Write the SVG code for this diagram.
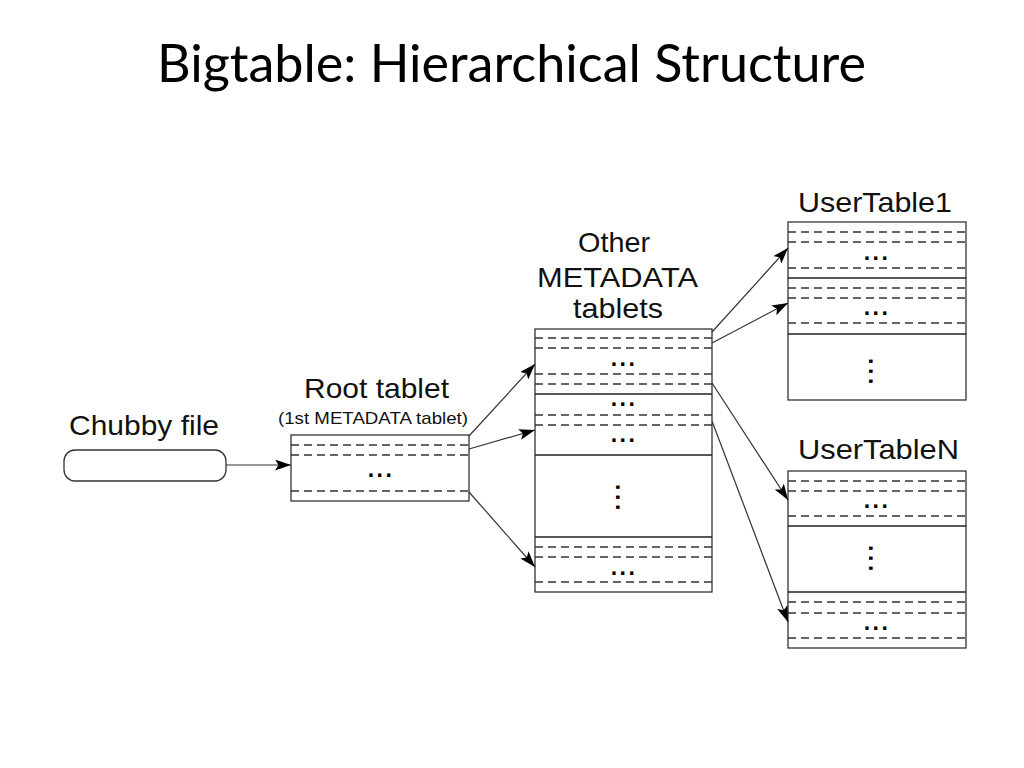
<svg xmlns="http://www.w3.org/2000/svg" width="1024" height="768" viewBox="0 0 1024 768">
<style>
.box{fill:#fff;stroke:#333;stroke-width:1.3}
.sol{stroke:#222;stroke-width:1.3}
.dash{stroke:#333;stroke-width:1.3;stroke-dasharray:8,5}
.lbl{font-family:"Liberation Sans",Arial,sans-serif;fill:#111}
.dots{font-family:"Liberation Sans",Arial,sans-serif;font-weight:bold;font-size:23px;letter-spacing:2.5px;fill:#000}
.vd{font-family:"Liberation Sans",Arial,sans-serif;font-weight:bold;font-size:23px;letter-spacing:3.6px;fill:#000}
.conn{stroke:#333;stroke-width:1.2;fill:none;marker-end:url(#ah)}
</style>
<defs>
<marker id="ah" viewBox="0 0 16 11" refX="16" refY="5.5" markerWidth="16" markerHeight="11" markerUnits="userSpaceOnUse" orient="auto">
<path d="M0,0 L16,5.5 L0,11 L3.5,5.5 Z" fill="#000"/>
</marker>
</defs>
<rect width="1024" height="768" fill="#fff"/>
<text x="157" y="82" font-family="Lato,'Open Sans',sans-serif" font-size="52" fill="#000" textLength="709" lengthAdjust="spacingAndGlyphs">Bigtable: Hierarchical Structure</text>

<g id="chubby">
<text class="lbl" x="69" y="435" font-size="28" textLength="150" lengthAdjust="spacingAndGlyphs">Chubby file</text>
<rect class="box" x="64" y="450" width="162" height="31" rx="11"/>
</g>

<g id="root">
<text class="lbl" x="304" y="398" font-size="28" textLength="145" lengthAdjust="spacingAndGlyphs">Root tablet</text>
<text class="lbl" x="278" y="424" font-size="17" textLength="190" lengthAdjust="spacingAndGlyphs">(1st METADATA tablet)</text>
<rect class="box" x="291" y="435" width="178" height="66"/>
<line class="dash" x1="291" y1="445" x2="469" y2="445"/>
<line class="dash" x1="291" y1="455" x2="469" y2="455"/>
<line class="dash" x1="291" y1="491" x2="469" y2="491"/>
<text class="dots" x="381" y="477" text-anchor="middle">...</text>
</g>

<g id="meta">
<text class="lbl" x="578" y="252" font-size="28" textLength="72" lengthAdjust="spacingAndGlyphs">Other</text>
<text class="lbl" x="537" y="287" font-size="28" textLength="161" lengthAdjust="spacingAndGlyphs">METADATA</text>
<text class="lbl" x="573" y="318" font-size="28" textLength="90" lengthAdjust="spacingAndGlyphs">tablets</text>
<rect class="box" x="535" y="329" width="177" height="263"/>
<line class="dash" x1="535" y1="338" x2="712" y2="338"/>
<line class="dash" x1="535" y1="348" x2="712" y2="348"/>
<text class="dots" x="624" y="366" text-anchor="middle">...</text>
<line class="dash" x1="535" y1="374" x2="712" y2="374"/>
<line class="dash" x1="535" y1="384" x2="712" y2="384"/>
<line class="sol" x1="535" y1="394" x2="712" y2="394"/>
<text class="dots" x="624" y="406" text-anchor="middle">...</text>
<line class="dash" x1="535" y1="415" x2="712" y2="415"/>
<line class="dash" x1="535" y1="425" x2="712" y2="425"/>
<text class="dots" x="624" y="442" text-anchor="middle">...</text>
<line class="sol" x1="535" y1="455" x2="712" y2="455"/>
<text class="vd" transform="translate(616,499) rotate(90)" text-anchor="middle">...</text>
<line class="sol" x1="535" y1="537" x2="712" y2="537"/>
<line class="dash" x1="535" y1="547" x2="712" y2="547"/>
<line class="dash" x1="535" y1="557" x2="712" y2="557"/>
<text class="dots" x="624" y="575" text-anchor="middle">...</text>
<line class="dash" x1="535" y1="582" x2="712" y2="582"/>
</g>

<g id="usertable1">
<text class="lbl" x="798" y="212" font-size="28" textLength="154" lengthAdjust="spacingAndGlyphs">UserTable1</text>
<rect class="box" x="788" y="222" width="178" height="178"/>
<line class="dash" x1="788" y1="232" x2="966" y2="232"/>
<line class="dash" x1="788" y1="242" x2="966" y2="242"/>
<text class="dots" x="877" y="260" text-anchor="middle">...</text>
<line class="dash" x1="788" y1="268" x2="966" y2="268"/>
<line class="sol" x1="788" y1="278" x2="966" y2="278"/>
<line class="dash" x1="788" y1="288" x2="966" y2="288"/>
<line class="dash" x1="788" y1="298" x2="966" y2="298"/>
<text class="dots" x="877" y="315" text-anchor="middle">...</text>
<line class="dash" x1="788" y1="323" x2="966" y2="323"/>
<line class="sol" x1="788" y1="334" x2="966" y2="334"/>
<text class="vd" transform="translate(869,373) rotate(90)" text-anchor="middle">...</text>
</g>

<g id="usertableN">
<text class="lbl" x="798" y="459" font-size="28" textLength="161" lengthAdjust="spacingAndGlyphs">UserTableN</text>
<rect class="box" x="788" y="471" width="178" height="177"/>
<line class="dash" x1="788" y1="481" x2="966" y2="481"/>
<line class="dash" x1="788" y1="491" x2="966" y2="491"/>
<text class="dots" x="877" y="508" text-anchor="middle">...</text>
<line class="dash" x1="788" y1="516" x2="966" y2="516"/>
<line class="sol" x1="788" y1="526" x2="966" y2="526"/>
<text class="vd" transform="translate(869,560) rotate(90)" text-anchor="middle">...</text>
<line class="sol" x1="788" y1="592" x2="966" y2="592"/>
<line class="dash" x1="788" y1="602" x2="966" y2="602"/>
<line class="dash" x1="788" y1="613" x2="966" y2="613"/>
<text class="dots" x="877" y="630" text-anchor="middle">...</text>
<line class="dash" x1="788" y1="638" x2="966" y2="638"/>
</g>

<g id="connectors">
<line class="conn" x1="226" y1="465" x2="291" y2="465"/>
<line class="conn" x1="469" y1="436" x2="535" y2="364"/>
<line class="conn" x1="469" y1="449" x2="535" y2="430"/>
<line class="conn" x1="469" y1="492" x2="535" y2="567"/>
<line class="conn" x1="712" y1="332" x2="788" y2="248"/>
<line class="conn" x1="712" y1="343" x2="788" y2="303"/>
<line class="conn" x1="712" y1="383" x2="788" y2="500"/>
<line class="conn" x1="712" y1="421" x2="788" y2="622"/>
</g>
</svg>
